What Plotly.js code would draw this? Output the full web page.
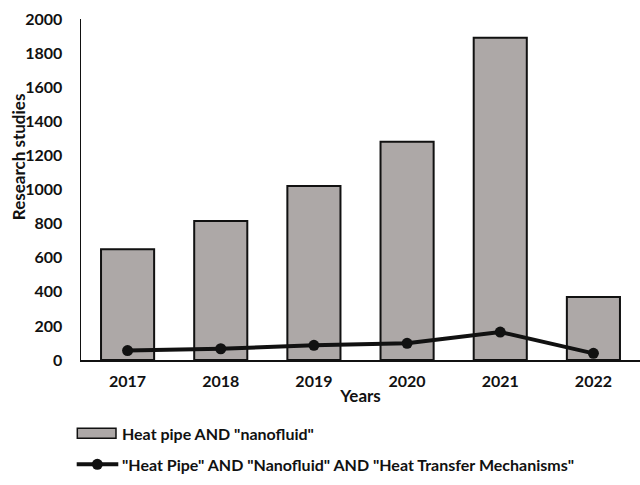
<!DOCTYPE html>
<html>
<head>
<meta charset="utf-8">
<script src="https://cdn.plot.ly/plotly-3.0.1.min.js"></script>
<style>
  html, body { margin: 0; padding: 0; background: #fff; }
  #chart { width: 640px; height: 485px; }
</style>
</head>
<body>
<div id="chart"></div>
<script>
// values
var years = ["2017", "2018", "2019", "2020", "2021", "2022"];
var nanofluidStudies = [650, 815, 1020, 1280, 1890, 370];
var mechanismStudies = [55, 66, 86, 98, 164, 39];
var yTicks = [0, 200, 400, 600, 800, 1000, 1200, 1400, 1600, 1800, 2000];
var seriesNames = ['Heat pipe AND "nanofluid"',
                   '"Heat Pipe" AND "Nanofluid" AND "Heat Transfer Mechanisms"'];

var fontFam = "Lato, 'Liberation Sans', sans-serif";
var barColor = "rgb(173,168,167)";
var ink = "#111";

var data = [{
    x: years,
    y: nanofluidStudies,
    type: "bar",
    name: seriesNames[0],
    width: 0.57,
    marker: {color: barColor, line: {color: ink, width: 2}},
    hoverinfo: "skip"
}, {
    x: years,
    y: mechanismStudies,
    type: "scatter",
    mode: "lines+markers",
    name: seriesNames[1],
    line: {color: ink, width: 4},
    marker: {color: ink, size: 11},
    hoverinfo: "skip"
}];

// legend drawn by hand so the bar swatch can be a wide box like the original
var legendShapes = [
    {type: "rect", xref: "paper", yref: "paper",
     x0: -0.0066, x1: 0.0626, y0: -0.2296, y1: -0.2003,
     fillcolor: barColor, line: {color: ink, width: 1.5}},
    {type: "line", xref: "paper", yref: "paper",
     x0: -0.0077, x1: 0.0667, y0: -0.3059, y1: -0.3059,
     line: {color: ink, width: 4}},
    {type: "circle", xref: "paper", yref: "paper",
     xsizemode: "pixel", ysizemode: "pixel",
     xanchor: 0.0292, yanchor: -0.3059,
     x0: -5.5, x1: 5.5, y0: -5.5, y1: 5.5,
     fillcolor: ink, line: {color: ink, width: 0}}
];

var layout = {
    width: 640,
    height: 485,
    margin: {l: 81, r: 0, t: 19, b: 125},
    paper_bgcolor: "#fff",
    plot_bgcolor: "#fff",
    font: {family: fontFam, size: 16, color: ink, weight: "bold"},
    showlegend: false,
    xaxis: {
        type: "category",
        showline: true,
        linecolor: ink,
        linewidth: 2,
        showgrid: false,
        ticks: "",
        ticklabelstandoff: 6,
        tickfont: {size: 16, weight: "bold"},
        title: {text: "Years", standoff: 1, font: {size: 17, weight: "bold"}}
    },
    yaxis: {
        range: [0, 2000],
        tickvals: yTicks,
        showline: true,
        linecolor: ink,
        linewidth: 1.5,
        showgrid: false,
        zeroline: false,
        ticks: "",
        ticklabelstandoff: 14,
        tickfont: {size: 16, weight: "bold"}
    },
    shapes: legendShapes,
    annotations: [{
        text: "Research studies",
        xref: "paper", yref: "paper",
        x: -0.112, y: 0.596,
        xanchor: "center", yanchor: "middle",
        textangle: -90,
        showarrow: false,
        font: {size: 17, weight: "bold", family: fontFam}
    }, {
        text: seriesNames[0],
        xref: "paper", yref: "paper",
        x: 0.0698, y: -0.215,
        xanchor: "left", yanchor: "middle",
        showarrow: false,
        font: {size: 16, weight: "bold", family: fontFam}
    }, {
        text: seriesNames[1],
        xref: "paper", yref: "paper",
        x: 0.0698, y: -0.3059,
        xanchor: "left", yanchor: "middle",
        showarrow: false,
        font: {size: 16, weight: "bold", family: fontFam}
    }]
};

Plotly.newPlot("chart", data, layout, {displayModeBar: false, staticPlot: true});
</script>
</body>
</html>
